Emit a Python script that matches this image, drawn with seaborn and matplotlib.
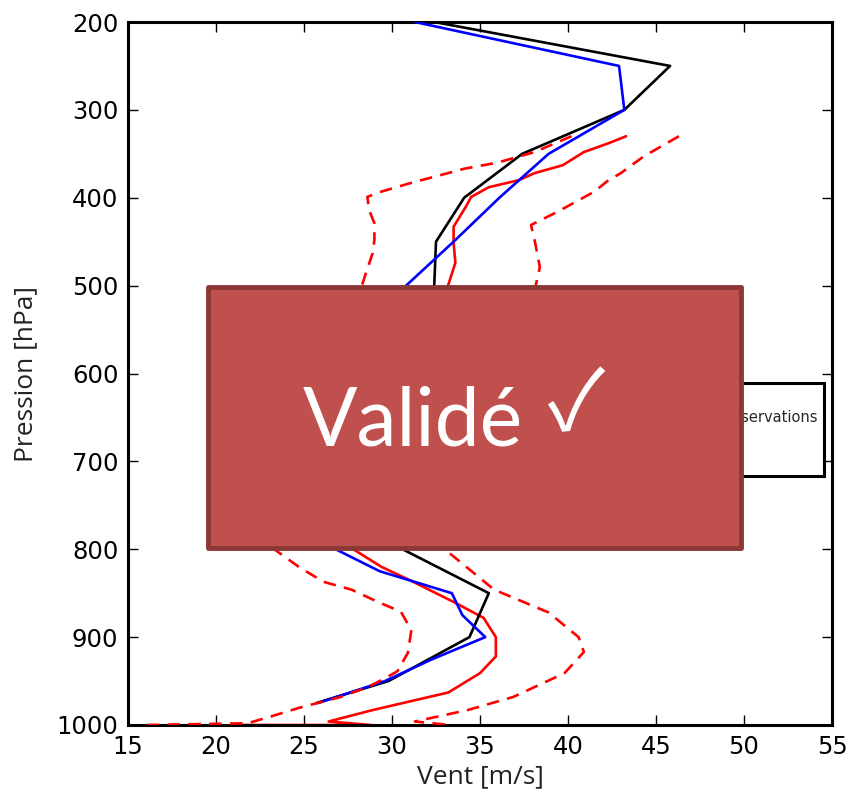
import numpy as np
import seaborn as sns
import pandas as pd
from matplotlib import pyplot as plt
from matplotlib.patches import Rectangle
from matplotlib.lines import Line2D

# Modèle 1 (noir)
p_noir = [200, 250, 300, 350, 400, 450, 500, 550, 600, 650, 700, 750, 800,
          850, 900, 925, 950, 975]
v_noir = [32.4, 45.8, 43.2, 37.4, 34.1, 32.5, 32.4, 32.0, 31.6, 31.2, 30.8,
          30.6, 30.6, 35.5, 34.4, 32.1, 29.8, 25.7]

# Modèle 2 (bleu)
p_bleu = [200, 250, 300, 350, 400, 450, 500, 550, 600, 650, 700, 750, 800,
          825, 850, 875, 900, 925, 950, 975]
v_bleu = [31.3, 42.9, 43.2, 38.9, 36.1, 33.5, 30.8, 29.5, 28.5, 27.8, 27.2,
          26.9, 26.8, 29.3, 33.4, 34.0, 35.3, 32.3, 29.6, 25.8]

# Moyenne des observations (rouge)
p_obs = [330, 338, 348, 363, 372, 380, 388, 399, 410, 433, 451, 474, 499,
         550, 600, 650, 700, 750, 800, 820, 838, 860, 878, 900, 922, 941,
         963, 983, 996, 1000, 1000]
v_obs = [43.3, 42.3, 40.9, 39.7, 38.1, 37.2, 35.5, 34.5, 34.2, 33.5, 33.5,
         33.6, 33.2, 31.5, 30.5, 29.5, 28.8, 28.2, 27.8, 29.4, 31.3, 33.5,
         35.2, 35.9, 35.9, 35.0, 33.2, 28.9, 26.4, 28.8, 21.5]

# Écart-type : borne haute
p_haut = [330, 353, 372, 380, 393, 416, 431, 448, 479, 497, 550, 600, 650,
          700, 750, 800, 846, 872, 900, 917, 941, 968, 983, 996, 1000]
v_haut = [46.3, 44.3, 43.0, 42.3, 41.5, 39.4, 37.9, 38.1, 38.4, 38.2, 37.5,
          36.5, 35.5, 34.5, 33.6, 33.0, 35.8, 38.9, 40.6, 40.9, 39.8, 36.9,
          34.3, 31.3, 33.3]

# Écart-type : borne basse
p_bas = [330, 348, 360, 367, 374, 383, 393, 399, 414, 429, 448, 463, 493,
         550, 600, 650, 700, 750, 797, 820, 837, 846, 860, 871, 892, 918,
         939, 949, 957, 968, 980, 991, 998, 1000]
v_bas = [40.2, 38.1, 36.0, 34.1, 32.8, 31.1, 29.4, 28.6, 28.7, 29.0, 29.0,
         28.9, 28.4, 27.5, 26.5, 25.5, 24.6, 23.8, 23.1, 24.7, 26.1, 27.7,
         29.2, 30.5, 31.1, 30.9, 30.3, 29.4, 28.6, 27.1, 24.8, 23.0, 21.8,
         16.0]

legende = ["Modèle", "Moyenne des observations", "Analyse", "Écart-type"]

sns.set_style("ticks")
plt.rcParams['font.family'] = ['DejaVu Sans']
plt.rcParams['lines.scale_dashes'] = False
plt.rcParams['xtick.direction'] = 'in'
plt.rcParams['ytick.direction'] = 'in'
plt.rcParams['xtick.top'] = True
plt.rcParams['ytick.right'] = True

fig = plt.figure(figsize=(8.5, 8), dpi=100)
ax = fig.add_axes([128 / 850, 75 / 800, 704 / 850, 703 / 800])

lw = 1.9
kw = dict(sort=False, estimator=None, ax=ax, lw=lw, legend=False)
sns.lineplot(x=v_noir, y=p_noir, color='black', zorder=3, **kw)
sns.lineplot(x=v_obs, y=p_obs, color='red', zorder=2, **kw)
sns.lineplot(x=v_bleu, y=p_bleu, color='blue', zorder=4, **kw)
for v, p in [(v_haut, p_haut), (v_bas, p_bas)]:
    sns.lineplot(x=v, y=p, color='red', zorder=5, **kw)
    ax.lines[-1].set_linestyle((0, (9, 6)))

ax.set_xlim(15, 55)
ax.set_ylim(1000, 200)
ax.set_xticks(range(15, 56, 5))
ax.set_yticks(range(200, 1001, 100))
ax.tick_params(labelsize=17.5, length=7, width=1, color='black',
               labelcolor='black', pad=7)
for s in ax.spines.values():
    s.set_linewidth(2.2)
    s.set_color('black')

ax.set_xlabel('Vent [m/s]', fontsize=19, family='Open Sans', labelpad=4,
              color='#222222')
ax.set_ylabel('Pression [hPa]', fontsize=19, family='Open Sans', labelpad=13,
              color='#222222')

handles = [Line2D([], [], color='black', lw=lw),
           Line2D([], [], color='red', lw=lw),
           Line2D([], [], color='blue', lw=lw),
           Line2D([], [], color='red', lw=lw, ls=(0, (9, 6)))]
leg = ax.legend(handles, legende, loc='upper right', fontsize=10.5,
                bbox_to_anchor=(0.988, 0.487), borderaxespad=0,
                labelspacing=0.42, fancybox=False, framealpha=1,
                edgecolor='black')
leg.get_frame().set_linewidth(2.2)

# cartouche "Validé"
fig.add_artist(Rectangle((208 / 850, 1 - 548 / 800), 533 / 850, 261 / 800,
                         transform=fig.transFigure, facecolor='#C0504D',
                         edgecolor='#8C3836', lw=3.5, joinstyle='round',
                         zorder=10))
fig.text(303 / 850, 1 - 445 / 800, 'Validé', color='white', fontsize=58,
         family='Lato', ha='left', va='baseline', zorder=11)
fig.text(576 / 850, 1 - 406 / 800, '✓', color='white', fontsize=60,
         family=['Noto Sans CJK JP', 'DejaVu Sans'], ha='center',
         va='center', zorder=11)

fig.savefig('out.png', dpi=100)
